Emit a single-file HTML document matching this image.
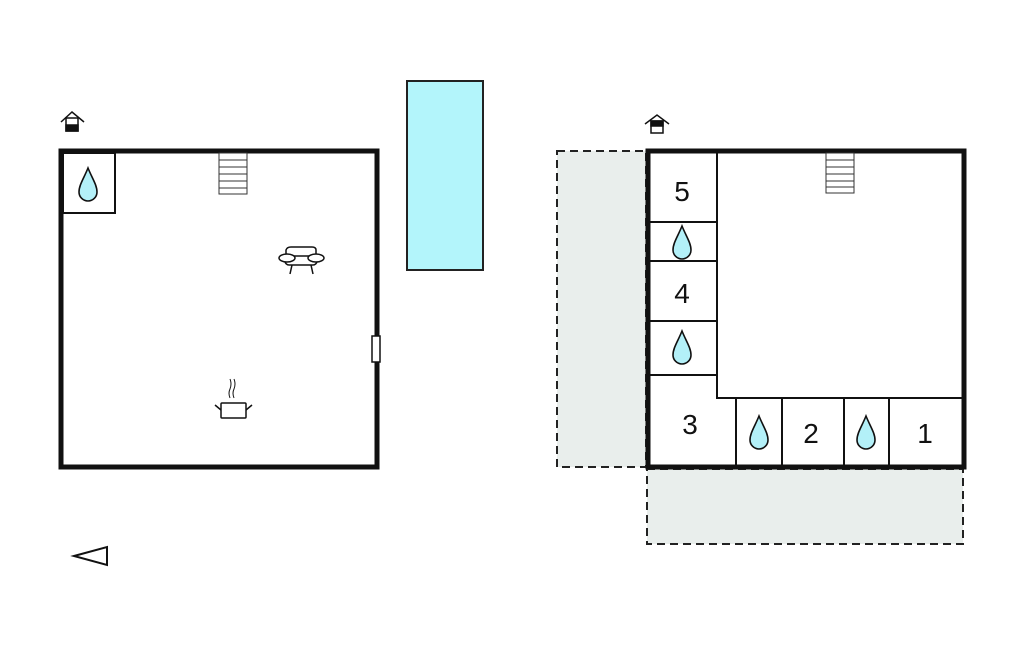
<!DOCTYPE html>
<html><head><meta charset="utf-8"><style>body{margin:0;background:#fff}svg{display:block}</style></head>
<body>
<svg width="1024" height="652" viewBox="0 0 1024 652" xmlns="http://www.w3.org/2000/svg">
<defs>
<path id="drop" d="M0,-17 C4,-7 9,0 9,7 A9,9 0 0 1 -9,7 C-9,0 -4,-7 0,-17 Z" fill="#b3f0f8" stroke="#111" stroke-width="1.6"/>
</defs>
<rect x="407" y="81" width="76" height="189" fill="#b3f5fb" stroke="#222" stroke-width="2"/>
<rect x="557" y="151" width="89" height="316" fill="#e9eeec" stroke="#222" stroke-width="2" stroke-dasharray="8,5"/>
<rect x="647" y="469" width="316" height="75" fill="#e9eeec" stroke="#222" stroke-width="2" stroke-dasharray="8,5"/>

<rect x="61" y="151" width="316" height="316" fill="#fff" stroke="#111" stroke-width="5"/>
<rect x="63" y="153" width="52" height="60" fill="none" stroke="#111" stroke-width="2"/>
<use href="#drop" x="88" y="185"/>
<g stroke="#333" stroke-width="1" fill="#fff"><rect x="219" y="153" width="28" height="41"/>
<line x1="219" y1="160" x2="247" y2="160"/><line x1="219" y1="167" x2="247" y2="167"/><line x1="219" y1="174" x2="247" y2="174"/><line x1="219" y1="181" x2="247" y2="181"/><line x1="219" y1="188" x2="247" y2="188"/></g>
<rect x="372" y="336" width="8" height="26" fill="#fff" stroke="#111" stroke-width="1.5"/>
<g fill="#fff" stroke="#111" stroke-width="1.5">
<path d="M286,257 L286,250 Q287,247 291,247 L312,247 Q316,247 316,250 L316,257"/>
<rect x="285" y="256" width="32" height="9" rx="4"/>
<ellipse cx="287" cy="258" rx="8" ry="4"/><ellipse cx="316" cy="258" rx="8" ry="4"/>
<line x1="292" y1="265" x2="290" y2="274"/><line x1="311" y1="265" x2="313" y2="274"/></g>
<g fill="#fff" stroke="#111" stroke-width="1.5">
<rect x="221" y="403" width="25" height="15" rx="1"/>
<line x1="215" y1="405" x2="221" y2="410"/><line x1="252" y1="405" x2="246" y2="410"/>
<path d="M230,398 q-2,-5 0,-9 q2,-5 0,-10" fill="none" stroke-width="1"/><path d="M234,398 q-2,-5 0,-9 q2,-5 0,-10" fill="none" stroke-width="1"/></g>
<g stroke="#111" stroke-width="1.5" fill="none"><polyline points="61,122 72,112 84,122"/><rect x="66" y="118" width="12" height="13" fill="#fff"/><rect x="66" y="125" width="12" height="6" fill="#111"/></g>

<rect x="648" y="151" width="316" height="316" fill="#fff" stroke="#111" stroke-width="5"/>
<g stroke="#111" stroke-width="2" fill="none">
<polyline points="717,153 717,398 962,398"/>
<line x1="650" y1="222" x2="717" y2="222"/><line x1="650" y1="261" x2="717" y2="261"/>
<line x1="650" y1="321" x2="717" y2="321"/><line x1="650" y1="375" x2="717" y2="375"/>
<polyline points="717,398 736,398 736,465"/>
<line x1="782" y1="398" x2="782" y2="465"/><line x1="844" y1="398" x2="844" y2="465"/><line x1="889" y1="398" x2="889" y2="465"/>
</g>
<g stroke="#333" stroke-width="1" fill="#fff"><rect x="826" y="153" width="28" height="40"/>
<line x1="826" y1="160" x2="854" y2="160"/><line x1="826" y1="167" x2="854" y2="167"/><line x1="826" y1="174" x2="854" y2="174"/><line x1="826" y1="181" x2="854" y2="181"/><line x1="826" y1="187" x2="854" y2="187"/></g>
<use href="#drop" x="682" y="243"/>
<use href="#drop" x="682" y="348"/>
<use href="#drop" x="759" y="433"/>
<use href="#drop" x="866" y="433"/>
<g font-family="Liberation Sans, sans-serif" font-size="28" fill="#111" text-anchor="middle">
<text x="682" y="201">5</text><text x="682" y="303">4</text><text x="690" y="434">3</text><text x="811" y="443">2</text><text x="925" y="443">1</text></g>
<g stroke="#111" stroke-width="1.5" fill="none"><polyline points="645,124 657,115 669,124"/><rect x="651" y="121" width="12" height="12" fill="#fff"/><rect x="651" y="121" width="12" height="5" fill="#111"/></g>

<polygon points="74,556 107,547 107,565" fill="#fff" stroke="#111" stroke-width="2"/>
</svg>
</body></html>
